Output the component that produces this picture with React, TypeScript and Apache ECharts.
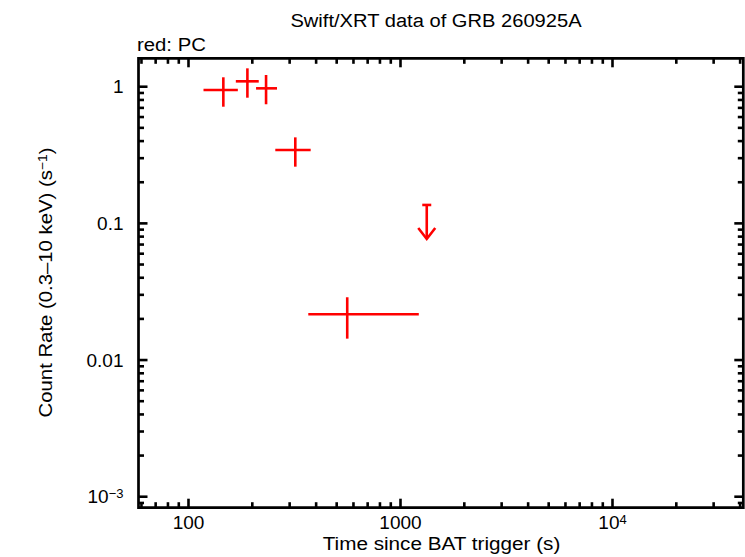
import React, { useEffect, useRef } from 'react';
import * as echarts from 'echarts';

// Swift/XRT light curve, PC mode
const timeMid = [146, 189.6, 232.2, 319, 560.7];
const timeLo = [117.7, 167.2, 208.3, 256.7, 367.3];
const timeHi = [170.9, 214.5, 261.5, 377, 1220];
const rate = [0.946, 1.095, 0.973, 0.344, 0.02163];
const rateLo = [0.714, 0.831, 0.744, 0.26, 0.01434];
const rateHi = [1.172, 1.363, 1.218, 0.426, 0.0288];

// upper limit
const ulTime = [1330];
const ulRate = [0.1364];

// axes
const X_MIN = 58.1;
const X_MAX = 41400;
const Y_MIN = 8.31e-4;
const Y_MAX = 1.614;
const xMajor = [100, 1000, 10000];
const xMajorLabels = ['100', '1000', '{b|10}{s|4}'];
const yMajor = [0.001, 0.01, 0.1, 1];
const yMajorLabels = ['{b|10}{s|−3}', '0.01', '0.1', '1'];
const xDecades = [10, 100, 1000, 10000];
const yDecades = [0.0001, 0.001, 0.01, 0.1, 1];
const minorSteps = [2, 3, 4, 5, 6, 7, 8, 9];

const RED = '#ff0000';
const FONT = "'Liberation Sans', Arial, Helvetica, sans-serif";
const MAJOR_LEN = 9;
const MINOR_LEN = 5.5;
const ARROW_LEN = 34;

const minorTicks = (decades: number[], lo: number, hi: number) =>
  decades.flatMap((d) => minorSteps.map((m) => d * m)).filter((v) => v > lo && v < hi);

const labelFor = (ticks: number[], labels: string[]) => (v: number) => {
  const i = ticks.findIndex((t) => Math.abs(Math.log10(v) - Math.log10(t)) < 1e-6);
  return i >= 0 ? labels[i] : '';
};

const supRich = {
  b: { fontSize: 19, lineHeight: 19, fontFamily: FONT, color: '#000' },
  s: { fontSize: 13, lineHeight: 17, verticalAlign: 'top', fontFamily: FONT, color: '#000' },
};

const App: React.FC = () => {
  const chartRef = useRef<HTMLDivElement>(null);

  useEffect(() => {
    if (!chartRef.current) return;
    const chart = echarts.init(chartRef.current, null, { renderer: 'svg' });

    const tickStyle = { stroke: '#000', lineWidth: 2.6 };

    const xTickData = [
      ...xMajor.map((v) => [v, 1, MAJOR_LEN]),
      ...minorTicks(xDecades, X_MIN, X_MAX).map((v) => [v, 1, MINOR_LEN]),
    ];
    const yTickData = [
      ...yMajor.map((v) => [100, v, MAJOR_LEN]),
      ...minorTicks(yDecades, Y_MIN, Y_MAX).map((v) => [100, v, MINOR_LEN]),
    ];

    const renderXTick = (params: any, api: any) => {
      const x = api.coord([api.value(0), 1])[0];
      const cs = params.coordSys;
      const len = api.value(2);
      const bottom = cs.y + cs.height;
      return {
        type: 'group',
        children: [
          { type: 'line', shape: { x1: x, y1: bottom, x2: x, y2: bottom - len }, style: tickStyle },
          { type: 'line', shape: { x1: x, y1: cs.y, x2: x, y2: cs.y + len }, style: tickStyle },
        ],
      };
    };

    const renderYTick = (params: any, api: any) => {
      const y = api.coord([100, api.value(1)])[1];
      const cs = params.coordSys;
      const len = api.value(2);
      const right = cs.x + cs.width;
      return {
        type: 'group',
        children: [
          { type: 'line', shape: { x1: cs.x, y1: y, x2: cs.x + len, y2: y }, style: tickStyle },
          { type: 'line', shape: { x1: right, y1: y, x2: right - len, y2: y }, style: tickStyle },
        ],
      };
    };

    const errStyle = { stroke: RED, lineWidth: 2.6, fill: 'none' };

    const renderErr = (_params: any, api: any) => {
      const c = api.coord([api.value(0), api.value(1)]);
      const l = api.coord([api.value(2), api.value(1)]);
      const r = api.coord([api.value(3), api.value(1)]);
      const b = api.coord([api.value(0), api.value(4)]);
      const t = api.coord([api.value(0), api.value(5)]);
      return {
        type: 'group',
        children: [
          { type: 'line', shape: { x1: l[0], y1: c[1], x2: r[0], y2: c[1] }, style: errStyle },
          { type: 'line', shape: { x1: c[0], y1: t[1], x2: c[0], y2: b[1] }, style: errStyle },
        ],
      };
    };

    const renderUL = (_params: any, api: any) => {
      const p = api.coord([api.value(0), api.value(1)]);
      const x = p[0];
      const tip = p[1] + ARROW_LEN;
      return {
        type: 'group',
        children: [
          { type: 'line', shape: { x1: x - 4.5, y1: p[1], x2: x + 4.5, y2: p[1] }, style: errStyle },
          { type: 'line', shape: { x1: x, y1: p[1], x2: x, y2: tip }, style: errStyle },
          {
            type: 'polyline',
            shape: { points: [[x - 8.5, tip - 11], [x, tip], [x + 8.5, tip - 11]] },
            style: errStyle,
          },
        ],
      };
    };

    const option: any = {
      animation: false,
      backgroundColor: '#fff',
      textStyle: { fontFamily: FONT },
      grid: {
        left: 138.5,
        right: 1.7,
        top: 58.3,
        bottom: 49.3,
        show: true,
        borderColor: '#000',
        borderWidth: 2.7,
        containLabel: false,
        outerBoundsMode: 'none',
      },
      xAxis: {
        type: 'log',
        logBase: 10,
        min: X_MIN,
        max: X_MAX,
        axisLine: { show: false },
        axisTick: { show: false },
        splitLine: { show: false },
        minorTick: { show: false },
        axisLabel: {
          color: '#000',
          fontSize: 19,
          fontFamily: FONT,
          margin: 5,
          showMinLabel: false,
          showMaxLabel: false,
          hideOverlap: false,
          formatter: labelFor(xMajor, xMajorLabels),
          rich: supRich,
        },
      },
      yAxis: {
        type: 'log',
        logBase: 10,
        min: Y_MIN,
        max: Y_MAX,
        axisLine: { show: false },
        axisTick: { show: false },
        splitLine: { show: false },
        minorTick: { show: false },
        axisLabel: {
          color: '#000',
          fontSize: 19,
          fontFamily: FONT,
          margin: 15,
          showMinLabel: false,
          showMaxLabel: false,
          hideOverlap: false,
          formatter: labelFor(yMajor, yMajorLabels),
          rich: supRich,
        },
      },
      graphic: [
        {
          type: 'text',
          x: 436,
          y: 20,
          scaleX: 1.06,
          style: {
            text: 'Swift/XRT data of GRB 260925A',
            fontSize: 19,
            fontFamily: FONT,
            fill: '#000',
            align: 'center',
            verticalAlign: 'middle',
          },
        },
        {
          type: 'text',
          x: 137,
          y: 44,
          scaleX: 1.07,
          style: {
            text: 'red: PC',
            fontSize: 19,
            fontFamily: FONT,
            fill: '#000',
            align: 'left',
            verticalAlign: 'middle',
          },
        },
        {
          type: 'text',
          x: 441.5,
          y: 543.5,
          scaleX: 1.09,
          style: {
            text: 'Time since BAT trigger (s)',
            fontSize: 19,
            fontFamily: FONT,
            fill: '#000',
            align: 'center',
            verticalAlign: 'middle',
          },
        },
        {
          type: 'text',
          x: 45.5,
          y: 282.5,
          rotation: Math.PI / 2,
          scaleX: 1.07,
          style: {
            text: '{b|Count Rate (0.3–10 keV) (s}{s|−1}{b|)}',
            fontSize: 19,
            fontFamily: FONT,
            fill: '#000',
            align: 'center',
            verticalAlign: 'middle',
            rich: supRich,
          },
        },
      ],
      series: [
        {
          type: 'custom',
          renderItem: renderXTick,
          data: xTickData,
          silent: true,
          z: 3,
        },
        {
          type: 'custom',
          renderItem: renderYTick,
          data: yTickData,
          silent: true,
          z: 3,
        },
        {
          type: 'custom',
          renderItem: renderErr,
          data: timeMid.map((t, i) => [t, rate[i], timeLo[i], timeHi[i], rateLo[i], rateHi[i]]),
          encode: { x: 0, y: 1 },
          z: 4,
        },
        {
          type: 'custom',
          renderItem: renderUL,
          data: ulTime.map((t, i) => [t, ulRate[i]]),
          encode: { x: 0, y: 1 },
          z: 4,
        },
      ],
    };

    chart.setOption(option);
    return () => chart.dispose();
  }, []);

  return (
    <div
      ref={chartRef}
      style={{ position: 'fixed', left: 0, top: 0, width: 745, height: 557, background: '#fff' }}
    />
  );
};

export default App;
